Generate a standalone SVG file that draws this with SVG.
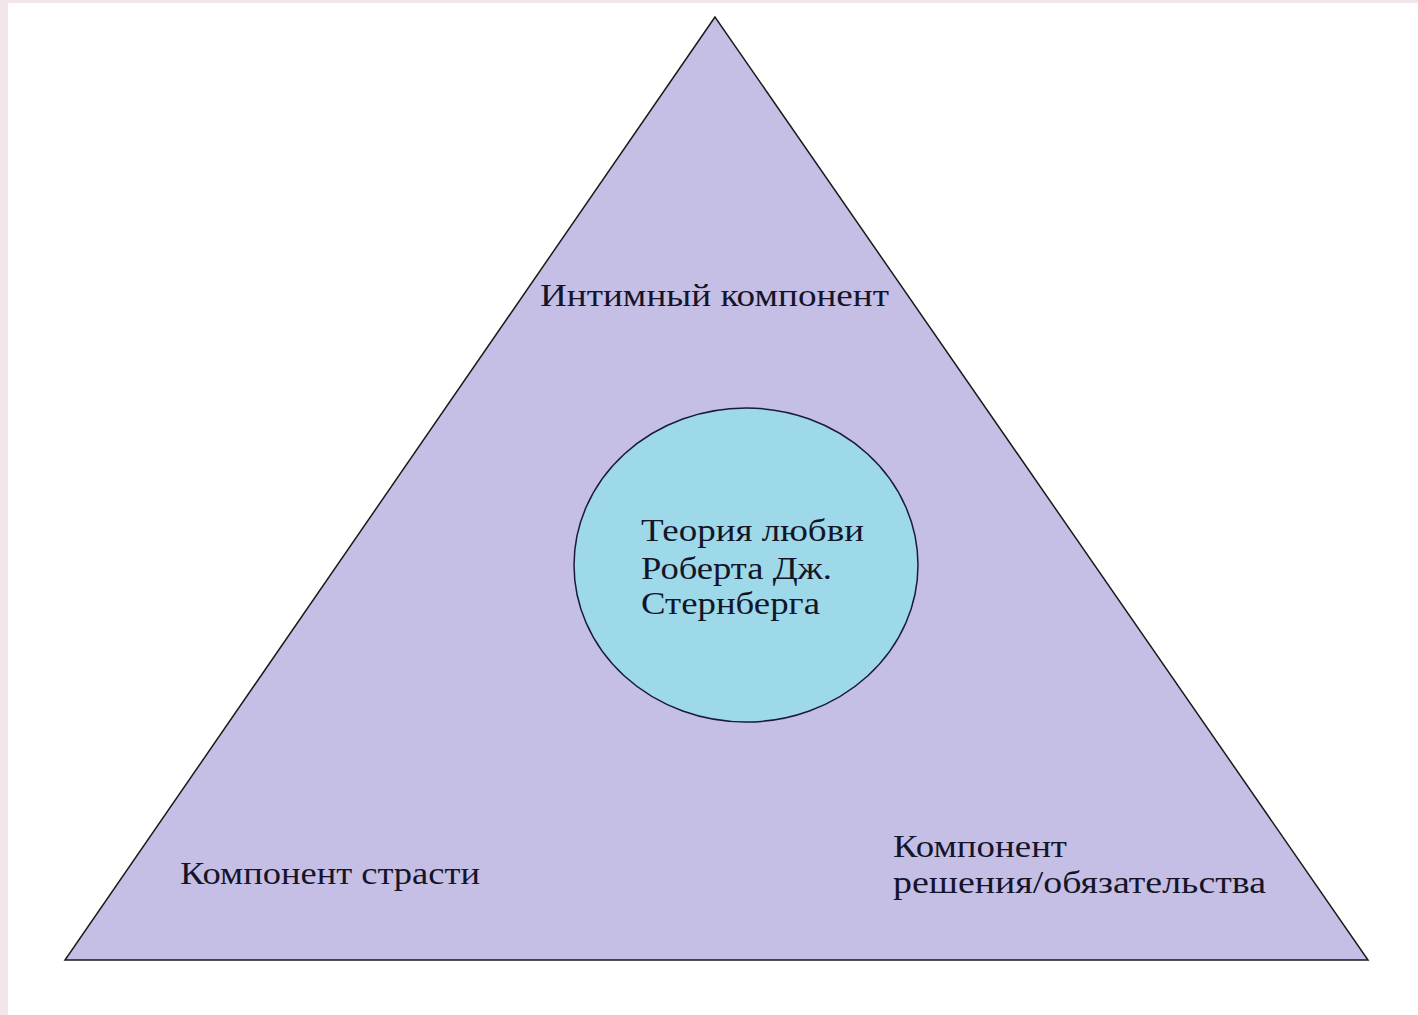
<svg xmlns="http://www.w3.org/2000/svg" width="1418" height="1015" viewBox="0 0 1418 1015">
<style>
.lbl{font-family:"Liberation Serif","DejaVu Serif",serif;font-size:31px;fill:#15152a;}
</style>
<rect x="0" y="0" width="1418" height="1015" fill="#ffffff"/>
<rect x="0" y="0" width="1418" height="3" fill="#f3e5ec"/>
<rect x="0" y="0" width="8" height="1015" fill="#f3e5ec"/>
<g id="triangle">
<polygon points="715,17 65,960 1368,960" fill="#c6bfe5" stroke="#1a1a1a" stroke-width="1.5"/>
<text class="lbl" x="540" y="306" textLength="349" lengthAdjust="spacingAndGlyphs">Интимный компонент</text>
<text class="lbl" x="180" y="884" textLength="300" lengthAdjust="spacingAndGlyphs">Компонент страсти</text>
<text class="lbl" x="893" y="857" textLength="174" lengthAdjust="spacingAndGlyphs">Компонент</text>
<text class="lbl" x="893" y="893" textLength="373" lengthAdjust="spacingAndGlyphs">решения/обязательства</text>
</g>
<g id="center">
<ellipse cx="746" cy="565" rx="172" ry="157" fill="#9dd9e8" stroke="#1a1a3a" stroke-width="1.5"/>
<text class="lbl" x="641" y="541" textLength="223" lengthAdjust="spacingAndGlyphs">Теория любви</text>
<text class="lbl" x="641" y="579" textLength="191" lengthAdjust="spacingAndGlyphs">Роберта Дж.</text>
<text class="lbl" x="641" y="614" textLength="179" lengthAdjust="spacingAndGlyphs">Стернберга</text>
</g>
<g id="connectors"></g>
</svg>
